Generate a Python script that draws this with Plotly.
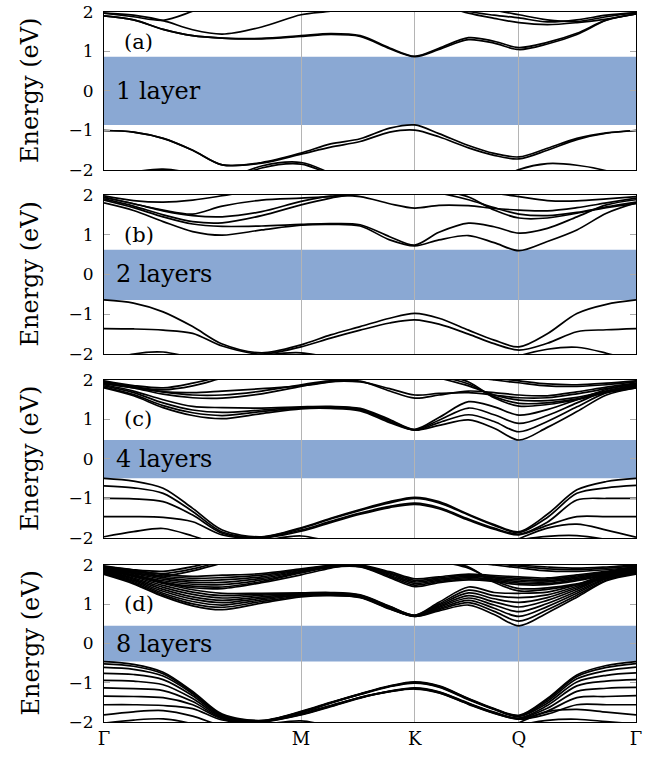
import plotly.graph_objects as go

N = None

# ---------------- k-path sample points and ticks ----------------
K_POS = [0.0, 0.15, 0.30, 0.45, 0.60, 0.80, 1.0, 1.15, 1.30, 1.45, 1.577,
         1.70, 1.85, 1.98, 2.106, 2.25, 2.40, 2.55, 2.70]
K_TICKS = [0.0, 1.0, 1.577, 2.106, 2.70]
K_LABELS = ["Γ", "M", "K", "Q", "Γ"]
E_TICKS = [-2, -1, 0, 1, 2]
E_LABELS = ["−2", "−1", "0", "1", "2"]

GAP_LOW = [-0.86, -0.64, -0.49, -0.46]
GAP_HIGH = [0.87, 0.62, 0.48, 0.45]
TAGS = ["(a)", "(b)", "(c)", "(d)"]
TAG_E = [1.25, 1.0, 1.0, 1.0]
NAMES = ["1 layer", "2 layers", "4 layers", "8 layers"]

# ---------------- (a) 1 layer ----------------
VB_1L = [
    [-1.00, -1.04, -1.20, -1.50, -1.87, -1.81, -1.57, -1.34, -1.21, -0.94, -0.86, -1.08, -1.38, -1.58, -1.67, -1.45, -1.20, -1.06, -1.00],
    [-1.00, -1.04, -1.20, -1.50, -1.87, -1.83, -1.60, -1.42, -1.28, -1.04, -0.99, -1.16, -1.44, -1.63, -1.72, -1.50, -1.23, -1.07, -1.00],
    [-2.20, -2.05, -1.98, -2.10, -2.40, N, N, N, N, N, N, N, N, -2.30, -1.99, -1.84, -1.88, -2.02, -2.25],
    [N, N, N, N, -2.30, -1.90, -1.81, -2.08, -2.40, N, N, N, N, N, N, N, N, N, N],
    [N, N, N, N, -2.35, -1.95, -1.85, -2.12, -2.45, N, N, N, N, N, N, N, N, N, N],
]
CB_1L = [
    [1.90, 1.80, 1.56, 1.40, 1.34, 1.32, 1.38, 1.43, 1.38, 1.07, 0.87, 1.05, 1.30, 1.21, 1.05, 1.19, 1.43, 1.79, 1.95],
    [1.90, 1.80, 1.56, 1.40, 1.34, 1.33, 1.40, 1.45, 1.40, 1.09, 0.88, 1.08, 1.35, 1.26, 1.10, 1.23, 1.46, 1.80, 1.95],
    [1.97, 1.92, 1.78, 1.55, 1.44, 1.62, 1.93, 2.02, 2.15, N, N, 2.20, 1.97, 1.84, 1.73, 1.68, 1.73, 1.82, 1.95],
    [1.97, 1.88, 1.79, 2.02, 2.30, N, N, N, N, N, N, N, N, N, N, N, N, N, N],
    [N, N, N, N, N, N, N, N, N, N, N, 2.30, 2.02, 1.92, 1.85, 1.75, 1.80, 1.92, 1.98],
    [N, N, N, N, N, N, N, N, N, N, N, N, 2.20, 2.05, 1.93, 1.80, 1.76, 1.88, 1.99],
]

# ---------------- (b) 2 layers ----------------
VB_2L = [
    [-0.64, -0.72, -0.94, -1.31, -1.75, -1.97, -1.77, -1.52, -1.31, -1.10, -0.98, -1.10, -1.40, -1.65, -1.82, -1.49, -0.98, -0.75, -0.64],
    [-1.36, -1.37, -1.40, -1.48, -1.80, -2.00, -1.82, -1.60, -1.40, -1.22, -1.14, -1.25, -1.50, -1.74, -1.90, -1.73, -1.44, -1.39, -1.36],
    [-2.20, -2.00, -1.95, -2.10, -2.30, N, N, N, N, N, N, N, N, -2.30, -2.05, -1.88, -1.83, -1.98, -2.20],
    [N, N, N, N, -2.30, -2.05, -1.97, -2.10, -2.30, N, N, N, N, N, N, N, N, N, N],
]
CB_2L = [
    [1.80, 1.61, 1.33, 1.08, 0.99, 1.12, 1.24, 1.26, 1.22, 0.87, 0.72, 0.87, 0.98, 0.80, 0.60, 0.83, 1.12, 1.54, 1.80],
    [1.87, 1.68, 1.45, 1.27, 1.21, 1.22, 1.26, 1.28, 1.25, 0.95, 0.74, 1.06, 1.29, 1.20, 1.04, 1.16, 1.45, 1.75, 1.88],
    [1.93, 1.78, 1.60, 1.48, 1.45, 1.58, 1.84, 1.97, 1.96, 1.78, 1.67, 1.74, 1.73, 1.66, 1.62, 1.60, 1.68, 1.80, 1.92],
    [1.90, 1.72, 1.50, 1.33, 1.30, 1.48, 1.75, 1.92, 2.05, 2.20, N, N, 2.20, 2.05, 1.96, 1.86, 1.85, 1.90, 1.96],
    [N, N, N, N, N, N, N, N, N, 2.25, 2.15, 2.05, 1.88, 1.68, 1.52, 1.48, 1.56, 1.70, 1.82],
    [N, N, N, N, N, N, N, N, N, 2.30, 2.20, 2.12, 1.95, 1.62, 1.42, 1.42, 1.54, 1.68, 1.78],
    [1.95, 1.78, 1.62, 1.52, 1.72, 1.87, 1.92, 1.96, 2.02, 2.15, N, N, N, N, N, N, N, N, N],
    [1.98, 1.86, 1.82, 1.87, 1.98, 2.15, N, N, N, N, N, N, N, N, N, N, N, N, N],
]

# ---------------- (c) 4 layers ----------------
VB_4L = [
    [-0.49, -0.56, -0.74, -1.25, -1.80, -1.97, -1.74, -1.50, -1.28, -1.08, -0.97, -1.08, -1.40, -1.66, -1.84, -1.40, -0.78, -0.57, -0.49],
    [-0.68, -0.73, -0.87, -1.33, -1.85, -1.98, -1.76, -1.52, -1.30, -1.11, -1.00, -1.11, -1.42, -1.68, -1.86, -1.48, -0.87, -0.73, -0.67],
    [-1.00, -1.01, -1.08, -1.42, -1.88, -1.99, -1.80, -1.58, -1.37, -1.20, -1.12, -1.23, -1.52, -1.75, -1.90, -1.60, -1.04, -1.00, -1.00],
    [-1.46, -1.46, -1.48, -1.59, -1.92, -2.00, -1.83, -1.61, -1.40, -1.23, -1.15, -1.26, -1.55, -1.78, -1.92, -1.68, -1.46, -1.46, -1.46],
    [-1.97, -1.84, -1.76, -1.95, -2.20, N, N, N, N, N, N, N, N, -2.30, -2.02, -1.75, -1.65, -1.80, -1.98],
    [N, N, N, N, -2.30, -2.08, -1.95, -2.10, -2.30, N, N, N, N, -2.30, -2.06, -1.96, -1.94, -2.04, -2.20],
]
CB_4L = [
    [1.80, 1.60, 1.30, 1.10, 1.02, 1.15, 1.27, 1.28, 1.22, 0.92, 0.73, 0.85, 0.99, 0.78, 0.48, 0.80, 1.20, 1.62, 1.80],
    [1.82, 1.63, 1.35, 1.17, 1.10, 1.20, 1.29, 1.30, 1.24, 0.95, 0.73, 0.92, 1.12, 0.95, 0.69, 0.95, 1.32, 1.68, 1.84],
    [1.85, 1.68, 1.42, 1.24, 1.18, 1.24, 1.31, 1.32, 1.26, 0.98, 0.74, 0.98, 1.29, 1.12, 0.90, 1.10, 1.42, 1.72, 1.87],
    [1.88, 1.72, 1.50, 1.33, 1.30, 1.29, 1.32, 1.33, 1.28, 1.00, 0.75, 1.05, 1.45, 1.32, 1.11, 1.25, 1.50, 1.76, 1.90],
    [1.92, 1.80, 1.64, 1.55, 1.54, 1.65, 1.84, 1.96, 1.95, 1.78, 1.62, 1.66, 1.68, 1.62, 1.55, 1.55, 1.65, 1.78, 1.90],
    [1.94, 1.83, 1.70, 1.62, 1.62, 1.72, 1.88, 1.98, 1.97, 1.72, 1.54, 1.62, 1.72, 1.68, 1.62, 1.60, 1.70, 1.82, 1.92],
    [N, N, N, N, N, N, N, N, 2.45, 2.35, 2.20, 2.05, 1.85, 1.62, 1.49, 1.48, 1.56, 1.72, 1.85],
    [N, N, N, N, N, N, N, N, N, 2.40, 2.25, 2.10, 1.90, 1.58, 1.41, 1.42, 1.52, 1.70, 1.83],
    [N, N, N, N, N, N, N, N, N, 2.45, 2.30, 2.15, 1.95, 1.55, 1.34, 1.38, 1.50, 1.68, 1.80],
    [N, N, N, N, N, N, N, N, N, N, N, 2.30, 2.10, 2.00, 1.93, 1.85, 1.84, 1.88, 1.95],
    [N, N, N, N, N, N, N, N, N, N, N, 2.35, 2.15, 2.05, 1.98, 1.90, 1.88, 1.92, 1.98],
    [1.96, 1.82, 1.75, 1.85, 2.05, 2.30, N, N, N, N, N, N, N, N, N, N, N, N, N],
    [1.98, 1.86, 1.80, 1.92, 2.10, 2.40, N, N, N, N, N, N, N, N, N, N, N, N, N],
    [1.90, 1.80, 1.70, 1.68, 1.72, 1.78, 1.85, 1.95, 2.08, 2.20, N, N, N, N, N, N, N, N, N],
]

# ---------------- (d) 8 layers (rows = k-points, columns = bands) ----------------
VB_8L_BY_K = [
    [-0.46, -0.52, -0.61, -0.76, -0.94, -1.13, -1.34, -1.56],
    [-0.53, -0.58, -0.66, -0.79, -0.96, -1.15, -1.35, -1.56],
    [-0.73, -0.77, -0.83, -0.92, -1.05, -1.20, -1.38, -1.58],
    [-1.22, -1.25, -1.28, -1.33, -1.40, -1.48, -1.56, -1.66],
    [-1.80, -1.82, -1.84, -1.86, -1.88, -1.90, -1.92, -1.95],
    [-1.96, -1.97, -1.97, -1.98, -1.98, -1.99, -1.99, -2.00],
    [-1.73, -1.74, -1.75, -1.76, -1.79, -1.80, -1.81, -1.82],
    [-1.50, -1.51, -1.51, -1.52, -1.58, -1.59, -1.60, -1.61],
    [-1.28, -1.29, -1.29, -1.30, -1.37, -1.38, -1.38, -1.39],
    [-1.08, -1.09, -1.09, -1.10, -1.21, -1.22, -1.22, -1.23],
    [-0.98, -0.99, -1.00, -1.01, -1.13, -1.14, -1.15, -1.16],
    [-1.08, -1.09, -1.10, -1.11, -1.23, -1.24, -1.25, -1.26],
    [-1.40, -1.41, -1.42, -1.43, -1.52, -1.53, -1.54, -1.55],
    [-1.66, -1.67, -1.67, -1.68, -1.75, -1.76, -1.77, -1.78],
    [-1.83, -1.84, -1.85, -1.86, -1.90, -1.91, -1.92, -1.93],
    [-1.40, -1.43, -1.47, -1.52, -1.58, -1.65, -1.72, -1.80],
    [-0.80, -0.84, -0.90, -0.98, -1.08, -1.22, -1.38, -1.56],
    [-0.56, -0.61, -0.69, -0.81, -0.96, -1.14, -1.35, -1.56],
    [-0.46, -0.51, -0.60, -0.75, -0.92, -1.12, -1.33, -1.56],
]
VB_8L_EXTRA = [
    [-1.82, -1.74, -1.71, -1.85, -2.10, -2.30, N, N, N, N, N, N, N, -2.40, -2.02, -1.74, -1.68, -1.75, -1.82],
    [-2.03, -1.95, -1.92, -2.05, -2.30, N, N, N, N, N, N, N, N, -2.40, -2.10, -1.96, -1.93, -1.99, -2.05],
    [N, N, N, N, -2.30, -2.08, -1.97, -2.12, -2.35, N, N, N, N, N, N, N, N, N, N],
]
CB_8L_BY_K = [
    [1.76, 1.78, 1.80, 1.82, 1.84, 1.86, 1.88, 1.90],
    [1.52, 1.55, 1.58, 1.61, 1.64, 1.67, 1.70, 1.73],
    [1.20, 1.24, 1.28, 1.33, 1.38, 1.43, 1.48, 1.53],
    [0.96, 1.01, 1.07, 1.13, 1.19, 1.25, 1.31, 1.37],
    [0.86, 0.92, 0.98, 1.04, 1.10, 1.16, 1.22, 1.28],
    [1.03, 1.07, 1.11, 1.15, 1.19, 1.23, 1.26, 1.28],
    [1.19, 1.21, 1.23, 1.24, 1.25, 1.26, 1.27, 1.29],
    [1.22, 1.23, 1.24, 1.25, 1.26, 1.27, 1.28, 1.30],
    [1.17, 1.18, 1.19, 1.20, 1.21, 1.22, 1.23, 1.24],
    [0.88, 0.89, 0.90, 0.91, 0.92, 0.93, 0.94, 0.95],
    [0.69, 0.69, 0.70, 0.70, 0.71, 0.71, 0.72, 0.72],
    [0.83, 0.86, 0.89, 0.92, 0.95, 0.98, 1.01, 1.05],
    [0.98, 1.04, 1.10, 1.16, 1.22, 1.29, 1.36, 1.44],
    [0.74, 0.82, 0.90, 0.98, 1.06, 1.14, 1.22, 1.30],
    [0.45, 0.57, 0.69, 0.81, 0.93, 1.05, 1.17, 1.28],
    [0.78, 0.86, 0.94, 1.02, 1.10, 1.17, 1.24, 1.31],
    [1.18, 1.23, 1.28, 1.33, 1.38, 1.42, 1.46, 1.50],
    [1.60, 1.62, 1.65, 1.67, 1.70, 1.72, 1.74, 1.76],
    [1.77, 1.79, 1.81, 1.83, 1.85, 1.87, 1.89, 1.91],
]
CB_8L_UPPER_BY_K = [
    [1.86, 1.88, 1.90, 1.92, 1.94, 1.96],
    [1.72, 1.75, 1.78, 1.81, 1.84, 1.87],
    [1.56, 1.60, 1.64, 1.68, 1.72, 1.76],
    [1.46, 1.51, 1.56, 1.61, 1.66, 1.71],
    [1.44, 1.50, 1.56, 1.62, 1.68, 1.74],
    [1.58, 1.62, 1.66, 1.70, 1.74, 1.78],
    [1.80, 1.82, 1.84, 1.86, 1.88, 1.90],
    [1.94, 1.95, 1.96, 1.97, 1.98, 1.99],
    [1.95, 1.96, 1.97, 1.98, 1.99, 2.00],
    [1.68, 1.71, 1.74, 1.77, 1.80, 1.83],
    [1.45, 1.49, 1.53, 1.57, 1.61, 1.65],
    [1.55, 1.58, 1.61, 1.64, 1.67, 1.70],
    [1.62, 1.65, 1.68, 1.71, 1.74, 1.77],
    [1.58, 1.61, 1.64, 1.67, 1.70, 1.73],
    [1.50, 1.54, 1.58, 1.62, 1.66, 1.70],
    [1.50, 1.53, 1.57, 1.60, 1.64, 1.67],
    [1.60, 1.63, 1.66, 1.69, 1.72, 1.75],
    [1.74, 1.76, 1.78, 1.80, 1.82, 1.84],
    [1.86, 1.88, 1.90, 1.92, 1.94, 1.96],
]
CB_8L_EXTRA = [
    [N, N, N, N, N, N, N, N, N, 2.40, 2.25, 2.10, 1.92, 1.60, 1.40, 1.42, 1.52, 1.68, 1.80],
    [N, N, N, N, N, N, N, N, N, N, 2.30, 2.12, 1.95, 1.56, 1.34, 1.38, 1.50, 1.66, 1.79],
    [N, N, N, N, N, N, N, N, N, N, N, 2.30, 2.10, 2.00, 1.93, 1.85, 1.84, 1.88, 1.95],
    [N, N, N, N, N, N, N, N, N, N, N, 2.35, 2.15, 2.05, 1.97, 1.90, 1.88, 1.92, 1.98],
    [N, N, N, N, N, N, N, N, N, N, N, N, 2.20, 2.10, 2.00, 1.95, 1.92, 1.95, 2.00],
    [1.93, 1.80, 1.72, 1.85, 2.05, 2.30, N, N, N, N, N, N, N, N, N, N, N, N, N],
    [1.96, 1.84, 1.78, 1.90, 2.10, 2.40, N, N, N, N, N, N, N, N, N, N, N, N, N],
    [1.98, 1.88, 1.84, 1.96, 2.15, N, N, N, N, N, N, N, N, N, N, N, N, N, N],
    [1.90, 1.74, 1.55, 1.42, 1.40, 1.55, 1.75, 1.92, 2.05, 2.20, N, N, N, N, N, N, N, N, N],
]

PANEL_BANDS = [
    VB_1L + CB_1L,
    VB_2L + CB_2L,
    VB_4L + CB_4L,
    [list(b) for b in zip(*VB_8L_BY_K)] + VB_8L_EXTRA
    + [list(b) for b in zip(*CB_8L_BY_K)]
    + [list(b) for b in zip(*CB_8L_UPPER_BY_K)] + CB_8L_EXTRA,
]

# ---------------- layout geometry ----------------
DOMAINS = [[0.7775, 1.0], [0.5183, 0.7423], [0.2592, 0.4817], [0.0, 0.2211]]
FONT = "DejaVu Serif"
GAP_COLOR = "#8aa8d3"
GRID_COLOR = "#b4b4b4"

fig = go.Figure()

for p, bands in enumerate(PANEL_BANDS):
    sfx = "" if p == 0 else str(p + 1)
    for band in bands:
        fig.add_trace(go.Scatter(
            x=K_POS, y=band, mode="lines",
            line=dict(color="black", width=1.7, shape="spline", smoothing=0.9),
            xaxis="x" + sfx, yaxis="y" + sfx, showlegend=False, hoverinfo="skip",
        ))

layout = dict(
    width=665, height=759,
    margin=dict(l=104, r=29, t=12, b=37),
    paper_bgcolor="white", plot_bgcolor="white",
    font=dict(family=FONT, size=16, color="black"),
    showlegend=False,
)
shapes = []
annotations = []
for p in range(4):
    sfx = "" if p == 0 else str(p + 1)
    layout["xaxis" + sfx] = dict(
        domain=[0, 1], range=[0, 2.70], anchor="y" + sfx,
        tickvals=K_TICKS, ticktext=K_LABELS, showticklabels=(p == 3),
        tickfont=dict(family=FONT, size=18),
        showgrid=True, gridcolor=GRID_COLOR, gridwidth=1,
        showline=True, linecolor="black", linewidth=1, mirror=True,
        ticks="", zeroline=False, automargin=False, ticklabeloverflow="allow",
    )
    layout["yaxis" + sfx] = dict(
        domain=DOMAINS[p], range=[-2, 2], anchor="x" + sfx,
        tickvals=E_TICKS, ticktext=E_LABELS,
        tickfont=dict(family=FONT, size=17),
        ticks="inside", ticklen=6, tickcolor="#aaaaaa", tickwidth=1,
        showline=True, linecolor="black", linewidth=1, mirror="allticks",
        showgrid=False, zeroline=False, ticklabelstandoff=6, automargin=False,
        ticklabeloverflow="allow",
    )
    shapes.append(dict(
        type="rect", xref="x" + sfx, yref="y" + sfx,
        x0=K_POS[0], x1=K_POS[-1], y0=GAP_LOW[p], y1=GAP_HIGH[p],
        fillcolor=GAP_COLOR, line=dict(width=0), layer="below",
    ))
    annotations.append(dict(
        xref="x" + sfx, yref="y" + sfx, x=0.09, y=TAG_E[p],
        text=TAGS[p], showarrow=False, xanchor="left", yanchor="middle",
        font=dict(family=FONT, size=21, color="black"),
    ))
    annotations.append(dict(
        xref="x" + sfx, yref="y" + sfx, x=0.05, y=0.0,
        text=NAMES[p], showarrow=False, xanchor="left", yanchor="middle",
        font=dict(family=FONT, size=24, color="black"),
    ))
    annotations.append(dict(
        xref="paper", yref="paper", x=-0.139, y=sum(DOMAINS[p]) / 2,
        text="Energy (eV)", textangle=-90, showarrow=False,
        xanchor="center", yanchor="middle",
        font=dict(family=FONT, size=24, color="black"),
    ))

layout["shapes"] = shapes
layout["annotations"] = annotations
fig.update_layout(**layout)

# remove the default 8px page margin so the 665x759 figure fills the window exactly
fig.write_html(
    "out.html",
    config={"displayModeBar": False, "staticPlot": True},
    post_script="document.body.style.margin='0px';",
)
